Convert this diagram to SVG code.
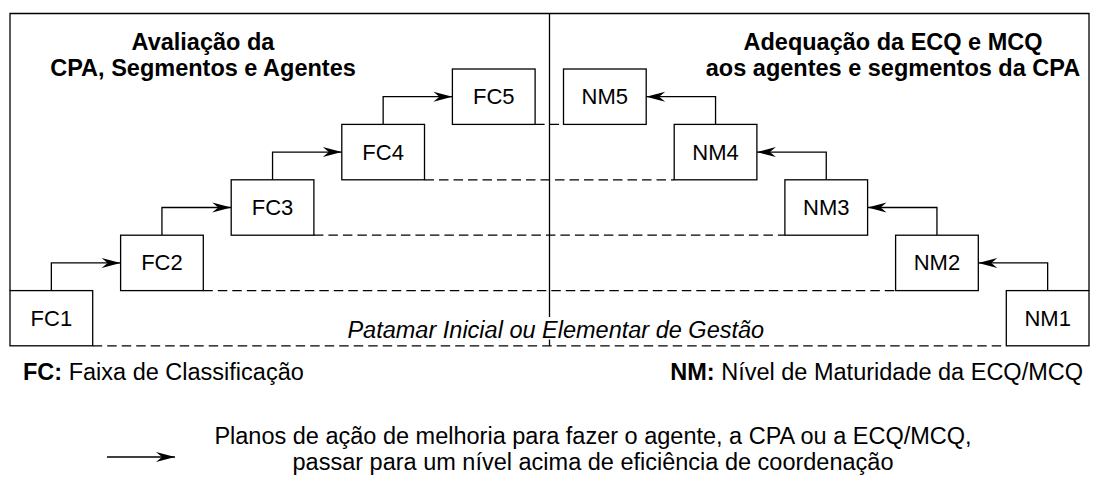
<svg xmlns="http://www.w3.org/2000/svg" width="1095" height="480" viewBox="0 0 1095 480">
<style>
text{font-family:"Liberation Sans",Arial,sans-serif;fill:#000}
.title{font-size:23.5px;font-weight:bold;text-anchor:middle}
.lbl{font-size:22px;text-anchor:middle}
.leg{font-size:23.5px}
.box{fill:#fff;stroke:#000;stroke-width:1.3}
.ln{fill:none;stroke:#000;stroke-width:1.3}
.dash{fill:none;stroke:#000;stroke-width:1.3;stroke-dasharray:9.5 5}
.arr{fill:none;stroke:#000;stroke-width:1.3;marker-end:url(#ah)}
</style>
<defs>
<marker id="ah" viewBox="-21 -6 22 12" refX="0" refY="0" markerWidth="22" markerHeight="12" markerUnits="userSpaceOnUse" orient="auto">
<path d="M0,0 L-19,-5 L-13,0 L-19,5 Z" fill="#000"/>
</marker>
</defs>
<rect width="1095" height="480" fill="#fff"/>
<g id="frame">
<path class="ln" d="M10,290.6 V13.5 H1089 V290.6"/>
<line class="ln" x1="549.5" y1="13.5" x2="549.5" y2="345.8"/>
</g>
<g id="levels">
<line class="dash" x1="535.1" y1="124.4" x2="563.5" y2="124.4"/>
<line class="dash" x1="424.5" y1="179.8" x2="674.2" y2="179.8"/>
<line class="dash" x1="313.9" y1="235.2" x2="784.9" y2="235.2"/>
<line class="dash" x1="203.3" y1="290.6" x2="895.6" y2="290.6"/>
<line class="dash" x1="92.7" y1="345.8" x2="1006.3" y2="345.8"/>
</g>
<g id="baseline-label">
<rect x="343" y="317" width="426" height="22.5" fill="#fff"/>
<text x="555.8" y="338" style="font-size:23.5px;font-style:italic;text-anchor:middle">Patamar Inicial ou Elementar de Gestão</text>
</g>
<g id="connectors">
<path class="arr" d="M51.35,290.6 V262.9 H120.6"/>
<path class="arr" d="M161.95,235.2 V207.5 H231.2"/>
<path class="arr" d="M272.55,179.8 V152.1 H341.8"/>
<path class="arr" d="M383.15,124.4 V96.7 H452.4"/>
<path class="arr" d="M1047.65,290.6 V262.9 H978.3"/>
<path class="arr" d="M936.95,235.2 V207.5 H867.6"/>
<path class="arr" d="M826.25,179.8 V152.1 H756.9"/>
<path class="arr" d="M715.55,124.4 V96.7 H646.2"/>
</g>
<g id="FC1"><rect class="box" x="10" y="290.6" width="82.7" height="55.2"/><text class="lbl" x="51.35" y="326">FC1</text></g>
<g id="FC2"><rect class="box" x="120.6" y="235.2" width="82.7" height="55.4"/><text class="lbl" x="161.95" y="270.4">FC2</text></g>
<g id="FC3"><rect class="box" x="231.2" y="179.8" width="82.7" height="55.4"/><text class="lbl" x="272.55" y="215">FC3</text></g>
<g id="FC4"><rect class="box" x="341.8" y="124.4" width="82.7" height="55.4"/><text class="lbl" x="383.15" y="159.6">FC4</text></g>
<g id="FC5"><rect class="box" x="452.4" y="69" width="82.7" height="55.4"/><text class="lbl" x="493.75" y="104.2">FC5</text></g>
<g id="NM1"><rect class="box" x="1006.3" y="290.6" width="82.7" height="55.2"/><text class="lbl" x="1047.65" y="326">NM1</text></g>
<g id="NM2"><rect class="box" x="895.6" y="235.2" width="82.7" height="55.4"/><text class="lbl" x="936.95" y="270.4">NM2</text></g>
<g id="NM3"><rect class="box" x="784.9" y="179.8" width="82.7" height="55.4"/><text class="lbl" x="826.25" y="215">NM3</text></g>
<g id="NM4"><rect class="box" x="674.2" y="124.4" width="82.7" height="55.4"/><text class="lbl" x="715.55" y="159.6">NM4</text></g>
<g id="NM5"><rect class="box" x="563.5" y="69" width="82.7" height="55.4"/><text class="lbl" x="604.85" y="104.2">NM5</text></g>
<g id="title-left">
<text class="title" x="203" y="50">Avaliação da</text>
<text class="title" x="203" y="76">CPA, Segmentos e Agentes</text>
</g>
<g id="title-right">
<text class="title" x="893" y="50">Adequação da ECQ e MCQ</text>
<text class="title" x="893" y="76">aos agentes e segmentos da CPA</text>
</g>
<g id="legend">
<text class="leg" x="23" y="380"><tspan font-weight="bold">FC:</tspan> Faixa de Classificação</text>
<text class="leg" x="1083" y="380" text-anchor="end"><tspan font-weight="bold">NM:</tspan> Nível de Maturidade da ECQ/MCQ</text>
<line class="arr" x1="107" y1="457" x2="175" y2="457"/>
<text class="leg" x="593" y="444" text-anchor="middle">Planos de ação de melhoria para fazer o agente, a CPA ou a ECQ/MCQ,</text>
<text class="leg" x="593" y="470" text-anchor="middle">passar para um nível acima de eficiência de coordenação</text>
</g>
</svg>
